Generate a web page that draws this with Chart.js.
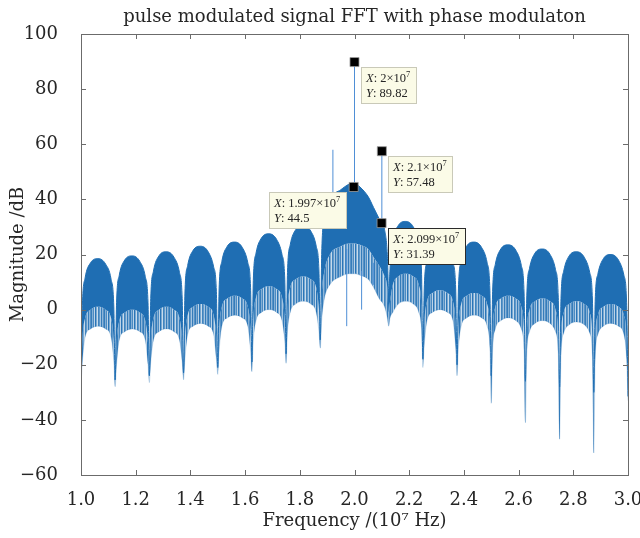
<!DOCTYPE html>
<html>
<head>
<meta charset="utf-8">
<script src="https://cdn.jsdelivr.net/npm/chart.js@4.4.1/dist/chart.umd.min.js"></script>
<style>
    html, body { margin: 0; padding: 0; background: #fff; }
</style>
</head>
<body>
<canvas id="fftChart" width="640" height="538"></canvas>
<script>
// Frequency samples along the spectrum (units of 10^7 Hz)
const freq = [
    1.0, 1.005, 1.015, 1.035, 1.0625, 1.09, 1.11, 1.12,
    1.125, 1.13, 1.14, 1.16, 1.1875, 1.215, 1.235, 1.245,
    1.25, 1.255, 1.265, 1.285, 1.3125, 1.34, 1.36, 1.37,
    1.375, 1.38, 1.39, 1.41, 1.4375, 1.465, 1.485, 1.495,
    1.5, 1.505, 1.515, 1.535, 1.5625, 1.59, 1.61, 1.62,
    1.625, 1.63, 1.64, 1.66, 1.6875, 1.715, 1.735, 1.745,
    1.75, 1.755, 1.765, 1.785, 1.8125, 1.84, 1.86, 1.87,
    1.875, 1.88, 1.89, 1.91, 1.95, 1.98, 2.0, 2.02, 2.05, 2.07, 2.09, 2.11, 2.12,
    2.125, 2.13, 2.14, 2.16, 2.1875, 2.215, 2.235, 2.245,
    2.25, 2.255, 2.265, 2.285, 2.3125, 2.34, 2.36, 2.37,
    2.375, 2.38, 2.39, 2.41, 2.4375, 2.465, 2.485, 2.495,
    2.5, 2.505, 2.515, 2.535, 2.5625, 2.59, 2.61, 2.62,
    2.625, 2.63, 2.64, 2.66, 2.6875, 2.715, 2.735, 2.745,
    2.75, 2.755, 2.765, 2.785, 2.8125, 2.84, 2.86, 2.87,
    2.875, 2.88, 2.89, 2.91, 2.9375, 2.965, 2.985, 2.995,
    3.0
];

// Top of the dense spectrum (dB)
const upper = [
    -25, 1.5, 11.5, 17, 18.5, 16.5, 11, 1,
    -25.5, 2.5, 12.5, 18, 19.5, 17.5, 12, 2.5,
    -24, 4, 14, 19.5, 21, 19, 13.5, 4,
    -23, 6, 16, 21.5, 23, 21, 15.5, 6.5,
    -21, 7.5, 17.5, 23, 24.5, 22.5, 17, 8,
    -19, 10.5, 20.5, 26, 27.5, 25.5, 20, 11,
    -16, 13.5, 23.5, 29, 30.5, 28.5, 23, 14,
    -11, 20, 33, 40, 43.5, 45.5, 46, 44.5, 41, 37, 33, 29, 20,
    6, 15, 25, 30.5, 32, 30, 24.5, 14,
    -18, 7.5, 17.5, 23, 24.5, 22.5, 17, 7.5,
    -20, 7.5, 17.5, 23, 24.5, 22.5, 17, 7,
    -24, 6.5, 16.5, 22, 23.5, 21.5, 16, 6,
    -26, 5, 15, 20.5, 22, 20, 14.5, 4.5,
    -28, 4, 14, 19.5, 21, 19, 13.5, 3.5,
    -30, 3, 13, 18.5, 20, 18, 12.5, 2.5,
    -31.5
];

// Bottom of the solid part (dB)
const floorLevel = [
    -25, -11, -3, 0, 1, 0, -3, -11,
    -25.5, -12, -4, -1, 0, -1, -4, -12,
    -24, -11, -3, 0, 1, 0, -3, -11,
    -23, -10, -2, 1, 2, 1, -2, -10,
    -21, -7, 1, 4, 5, 4, 1, -7,
    -19, -3.5, 4.5, 7.5, 8.5, 7.5, 4.5, -3.5,
    -16, 0, 8, 11, 12, 11, 8, 0,
    -11, 5, 14, 20, 23, 24, 24, 23.5, 22, 19, 16, 12, 8,
    -1, 3, 9, 12, 13, 12, 9, 1,
    -18, -5, 3, 6, 7, 6, 3, -5,
    -20, -6, 2, 5, 6, 5, 2, -6,
    -24, -7, 1, 4, 5, 4, 1, -7,
    -26, -8, 0, 3, 4, 3, 0, -8,
    -28, -9, -1, 2, 3, 2, -1, -9,
    -30, -10, -2, 1, 2, 1, -2, -10,
    -31.5
];

// Lowest reach of the thin downward spikes (dB)
const spikeLevel = [
    -28, -19, -10, -7, -6, -7, -10, -19,
    -28, -20, -11, -8, -7, -8, -11, -20,
    -26.5, -19, -11, -8, -7, -8, -11, -19,
    -25.5, -18, -9, -6, -5, -6, -9, -18,
    -23.5, -15, -6, -3, -2, -3, -6, -15,
    -22.5, -11.5, -4, -1, 0, -1, -4, -11.5,
    -19.5, -8, -1, 2, 3, 2, -1, -8,
    -14, -4, 4, 9, 12, 13, 13, 12.5, 11, 8, 4, 1, -3,
    -6, -3, -1, 2, 3, 2, -1, -7,
    -21, -13, -4, -1, 0, -1, -4, -14,
    -24, -14, -6, -3, -2, -3, -6, -14,
    -34, -15, -7, -4, -3, -4, -7, -15,
    -41, -16, -8, -5, -4, -5, -8, -16,
    -47, -17, -8.5, -5.5, -4.5, -5.5, -8.5, -17,
    -52, -18, -9, -6, -5, -6, -9, -18,
    -33
];

// Single spectral lines
const lineFreq = [1.921, 1.9715, 2.0, 2.026, 2.069, 2.1];
const lineLow = [38, -6, 44, 0, 9, 30];
const lineHigh = [58, 22, 89.82, 14, 17, 57.48];

// Data tips
const tipX = [2.0, 2.1, 1.997, 2.099];
const tipY = [89.82, 57.48, 44.5, 31.39];

// Axis ticks
const xTicks = [1.0, 1.2, 1.4, 1.6, 1.8, 2.0, 2.2, 2.4, 2.6, 2.8, 3.0];
const yTicks = [-60, -40, -20, 0, 20, 40, 60, 80, 100];

const serif = "DejaVu Serif";
const blue = "#1f6eb3";

const toPoints = (ys) => freq.map((f, i) => ({ x: f, y: ys[i] }));

// Each single line is two points followed by a gap
const linePoints = [];
lineFreq.forEach((f, i) => {
    linePoints.push({ x: f, y: lineLow[i] });
    linePoints.push({ x: f, y: lineHigh[i] });
    linePoints.push({ x: f, y: null });
});

// Vertical streaks for the sparse lower part of the spectrum
function streakPattern() {
    const c = document.createElement("canvas");
    const shades = [0.9, 0.55, 0.8, 0.3, 0.95, 0.6, 0.25, 0.85, 0.7, 0.4, 0.9, 0.5, 0.75];
    c.width = shades.length;
    c.height = 1;
    const g = c.getContext("2d");
    shades.forEach((a, i) => {
        g.fillStyle = "rgba(31,110,179," + a + ")";
        g.fillRect(i, 0, 1, 1);
    });
    return g.createPattern(c, "repeat");
}

// Frame and inward tick marks on all four sides
const framePlugin = {
    id: "frame",
    afterDatasetsDraw(chart) {
        const { ctx, chartArea: a } = chart;
        const xs = chart.scales.x;
        const ys = chart.scales.y;
        ctx.save();
        ctx.strokeStyle = "#6b6b6b";
        ctx.lineWidth = 1;
        ctx.beginPath();
        xTicks.forEach((t) => {
            const px = Math.round(xs.getPixelForValue(t)) + 0.5;
            ctx.moveTo(px, a.bottom);
            ctx.lineTo(px, a.bottom - 5);
            ctx.moveTo(px, a.top);
            ctx.lineTo(px, a.top + 5);
        });
        yTicks.forEach((t) => {
            const py = Math.round(ys.getPixelForValue(t)) + 0.5;
            ctx.moveTo(a.left, py);
            ctx.lineTo(a.left + 5, py);
            ctx.moveTo(a.right, py);
            ctx.lineTo(a.right - 5, py);
        });
        ctx.stroke();
        ctx.strokeRect(Math.round(a.left) + 0.5, Math.round(a.top) + 0.5,
            Math.round(a.right - a.left), Math.round(a.bottom - a.top));
        ctx.restore();
    },
};

// MATLAB style data tips
const tipPlugin = {
    id: "dataTips",
    afterDraw(chart) {
        const ctx = chart.ctx;
        const xs = chart.scales.x;
        const ys = chart.scales.y;
        const base = '12.5px "Liberation Serif"';
        const ital = 'italic 12.5px "Liberation Serif"';
        const sup = '8.5px "Liberation Serif"';
        const onLeft = [false, false, true, false];
        const selected = [false, false, false, true];

        const partsWidth = (parts) => parts.reduce((w, p) => {
            ctx.font = p.f;
            return w + ctx.measureText(p.t).width;
        }, 0);
        const drawParts = (parts, x, y) => {
            parts.forEach((p) => {
                ctx.font = p.f;
                ctx.fillText(p.t, x, y + (p.dy || 0));
                x += ctx.measureText(p.t).width;
            });
        };

        ctx.save();
        tipX.forEach((xv, i) => {
            const px = xs.getPixelForValue(xv);
            const py = ys.getPixelForValue(tipY[i]);
            const line1 = [
                { t: "X", f: ital },
                { t: ": " + String(xv) + "\u00d710", f: base },
                { t: "7", f: sup, dy: -5 },
            ];
            const line2 = [
                { t: "Y", f: ital },
                { t: ": " + String(tipY[i]), f: base },
            ];
            const w = Math.ceil(Math.max(partsWidth(line1), partsWidth(line2))) + 11;
            const h = 37;
            const left = onLeft[i] ? Math.round(px - 7 - w) : Math.round(px + 6);
            const top = Math.round(py + 5);

            ctx.fillStyle = "#fbfbe7";
            ctx.fillRect(left, top, w, h);
            ctx.strokeStyle = selected[i] ? "#2b2b2b" : "#c9c9b8";
            ctx.lineWidth = 1;
            ctx.strokeRect(left + 0.5, top + 0.5, w - 1, h - 1);

            ctx.fillStyle = "#262626";
            ctx.textBaseline = "alphabetic";
            drawParts(line1, left + 5, top + 15);
            drawParts(line2, left + 5, top + 30);
        });
        ctx.restore();
    },
};

new Chart(document.getElementById("fftChart"), {
    type: "line",
    data: {
        datasets: [
            {
                data: toPoints(upper),
                borderColor: blue,
                borderWidth: 1,
                backgroundColor: blue,
                fill: 1,
                pointRadius: 0,
                cubicInterpolationMode: "monotone",
                order: 3,
            },
            {
                data: toPoints(floorLevel),
                borderWidth: 0,
                backgroundColor: streakPattern(),
                fill: 2,
                pointRadius: 0,
                cubicInterpolationMode: "monotone",
                order: 3,
            },
            {
                data: toPoints(spikeLevel),
                borderColor: "rgba(31,110,179,0.3)",
                borderWidth: 0.6,
                fill: false,
                pointRadius: 0,
                cubicInterpolationMode: "monotone",
                order: 3,
            },
            {
                data: linePoints,
                borderColor: "#4f8fd6",
                borderWidth: 1,
                spanGaps: false,
                fill: false,
                pointRadius: 0,
                order: 2,
            },
            {
                data: tipX.map((x, i) => ({ x: x, y: tipY[i] })),
                showLine: false,
                pointStyle: "rect",
                pointRadius: 6.4,
                backgroundColor: "#000",
                borderColor: "#9a9a9a",
                borderWidth: 0.8,
                order: 1,
            },
        ],
    },
    options: {
        responsive: false,
        animation: false,
        devicePixelRatio: 1,
        layout: { padding: { left: 0, right: 12, top: 0, bottom: 0 } },
        plugins: {
            legend: { display: false },
            tooltip: { enabled: false },
            title: {
                display: true,
                text: "pulse modulated signal FFT with phase modulaton",
                fullSize: false,
                color: "#262626",
                font: { family: serif, size: 18, weight: "normal" },
                padding: { top: 7, bottom: 5.4 },
            },
        },
        scales: {
            x: {
                type: "linear",
                min: 1,
                max: 3,
                afterBuildTicks: (scale) => {
                    scale.ticks = xTicks.map((v) => ({ value: v }));
                },
                afterFit: (scale) => {
                    scale.height = 63;
                    scale.paddingLeft = 0;
                    scale.paddingRight = 0;
                },
                grid: { display: false },
                border: { display: false },
                ticks: {
                    padding: 7,
                    color: "#262626",
                    font: { family: serif, size: 18 },
                    maxRotation: 0,
                    callback: (v) => Number(v).toFixed(1),
                },
                title: {
                    display: true,
                    text: "Frequency /(10\u2077 Hz)",
                    color: "#262626",
                    font: { family: serif, size: 18 },
                    padding: { top: 0, bottom: 5.5 },
                },
            },
            y: {
                min: -60,
                max: 100,
                afterBuildTicks: (scale) => {
                    scale.ticks = yTicks.map((v) => ({ value: v }));
                },
                afterFit: (scale) => {
                    scale.width = 81;
                    scale.paddingTop = 0;
                    scale.paddingBottom = 0;
                },
                grid: { display: false },
                border: { display: false },
                ticks: {
                    padding: 15,
                    color: "#262626",
                    font: { family: serif, size: 18 },
                    callback: (v) => (v < 0 ? "\u2212" + Math.abs(v) : String(v)),
                },
                title: {
                    display: true,
                    text: "Magnitude /dB",
                    color: "#262626",
                    font: { family: serif, size: 18 },
                    padding: { top: 7.5, bottom: 0 },
                },
            },
        },
    },
    plugins: [framePlugin, tipPlugin],
});
</script>
</body>
</html>
